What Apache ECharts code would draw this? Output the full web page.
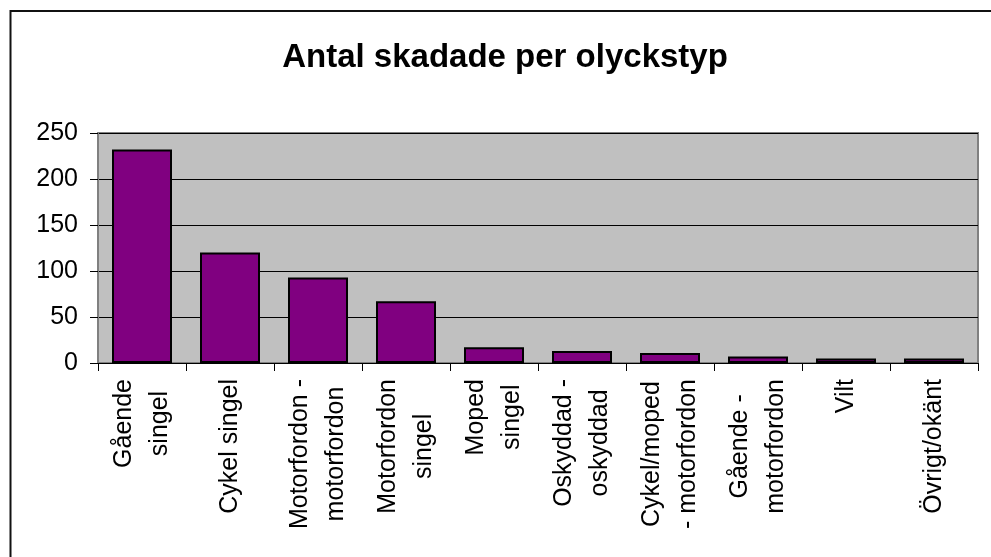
<!DOCTYPE html>
<html>
<head>
<meta charset="utf-8">
<script src="https://cdn.jsdelivr.net/npm/echarts@6/dist/echarts.min.js"></script>
<style>
  html, body { margin: 0; padding: 0; background: #fff; }
  #chart { width: 991px; height: 557px; }
</style>
</head>
<body>
<div id="chart"></div>
<script>
// olyckstyper, radbrytning som i originalet
var categories = [
  'Gående\nsingel',
  'Cykel singel',
  'Motorfordon -\nmotorfordon',
  'Motorfordon\nsingel',
  'Moped\nsingel',
  'Oskyddad -\noskyddad',
  'Cykel/moped\n- motorfordon',
  'Gående -\nmotorfordon',
  'Vilt',
  'Övrigt/okänt'
];
var skadade = [232, 120, 93, 67, 17, 13, 11, 7, 5, 5];
var yTicks = [0, 50, 100, 150, 200, 250];

var chart = echarts.init(document.getElementById('chart'));
chart.setOption({
  animation: false,
  textStyle: { fontFamily: 'Liberation Sans, Arial, sans-serif' },
  title: {
    text: 'Antal skadade per olyckstyp',
    left: 500,
    top: 36,
    textAlign: 'center',
    textStyle: { fontSize: 33, fontWeight: 'bold', color: '#000', fontFamily: 'Liberation Sans, Arial, sans-serif' }
  },
  graphic: [{
    type: 'rect',
    shape: { x: 10.5, y: 11, width: 1000, height: 600 },
    style: { fill: 'none', stroke: '#111', lineWidth: 2 },
    silent: true
  }],
  grid: {
    left: 98, right: 13, top: 133, bottom: 194,
    show: true,
    backgroundColor: '#C0C0C0',
    borderColor: '#808080',
    borderWidth: 2
  },
  xAxis: {
    type: 'category',
    data: categories,
    axisLine: { lineStyle: { color: '#000', width: 1 } },
    axisTick: { show: true, length: 8, lineStyle: { color: '#000' } },
    axisLabel: {
      rotate: 90,
      interval: 0,
      margin: 16,
      color: '#000',
      fontSize: 25,
      lineHeight: 36,
      formatter: function (v) {
        return v.split('\n').map(function (s) { return '{c|' + s + '}'; }).join('\n');
      },
      rich: { c: { align: 'center', fontSize: 25, lineHeight: 36, color: '#000' } }
    }
  },
  yAxis: {
    type: 'value',
    min: yTicks[0],
    max: yTicks[yTicks.length - 1],
    interval: 50,
    axisLine: { show: true, lineStyle: { color: '#808080', width: 2 } },
    axisTick: { show: true, length: 8, lineStyle: { color: '#000' } },
    axisLabel: { color: '#000', fontSize: 25, margin: 20 },
    splitLine: { show: true, lineStyle: { color: '#000', width: 1 } }
  },
  series: [{
    type: 'bar',
    data: skadade,
    barWidth: 60,
    itemStyle: { color: '#800080', borderColor: '#000', borderWidth: 2 }
  }]
});
</script>
</body>
</html>
